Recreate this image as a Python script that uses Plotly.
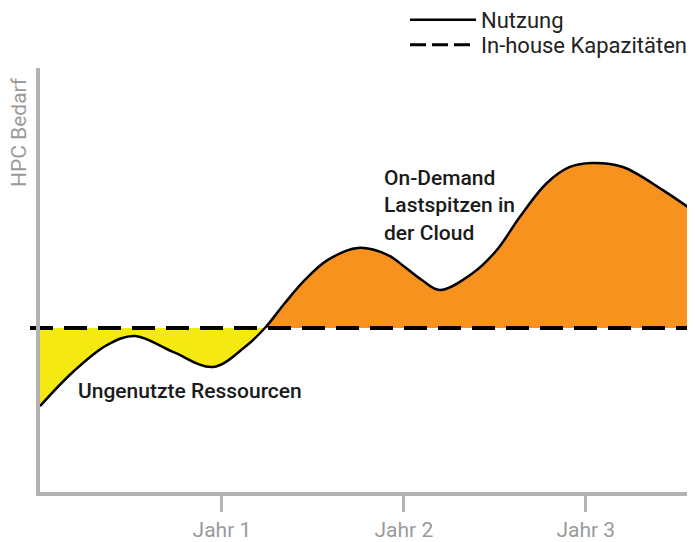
import plotly.graph_objects as go

# ---- data ----
years = [0.0, 0.181, 0.368, 0.522, 0.731, 0.951, 1.126, 1.236, 1.346, 1.456,
         1.582, 1.747, 1.912, 2.005, 2.099, 2.198, 2.379, 2.511, 2.637, 2.786,
         2.912, 3.033, 3.203, 3.423, 3.6]
usage = [52.4, 73.2, 89.6, 95.1, 85.4, 76.2, 88.4, 100.0, 115.2, 129.3,
         141.5, 148.8, 144.5, 137.2, 129.3, 123.2, 133.5, 147.6, 167.7, 188.4,
         198.2, 200.6, 198.2, 184.1, 170.7]
capacity_years = [-0.055, 3.6]
capacity = [100, 100]
tick_years = [1, 2, 3]
tick_labels = ["Jahr 1", "Jahr 2", "Jahr 3"]

# ---- layout geometry (page is offset by the default 8px body margin) ----
W, H = 695, 542
OFF = 8
ML, MR, MT, MB = 30 - OFF, OFF, 68 - OFF, 50 + OFF
PW, PH = W - ML - MR, H - MT - MB
PX_PER_YEAR = 182.0
X0 = -10 / PX_PER_YEAR
YMAX = 258.54
CAP = capacity[0]
frac = CAP / YMAX
PLOT_BOTTOM = H - MB  # figure px of plot bottom

FONT = "Roboto"
GREY = "#b3b3b3"
TXT_GREY = "#9a9a9a"
YELLOW = "#f4ea12"
ORANGE = "#f7921e"

fig = go.Figure()

# yellow region (below capacity) clipped to lower subplot
fig.add_trace(go.Scatter(x=[years[0], years[-1]], y=capacity, mode="lines",
                         line=dict(width=0), hoverinfo="skip", showlegend=False,
                         xaxis="x", yaxis="y"))
fig.add_trace(go.Scatter(x=years, y=usage, mode="lines", fill="tonexty",
                         fillcolor=YELLOW, line=dict(width=0, shape="spline", smoothing=1),
                         hoverinfo="skip", showlegend=False, xaxis="x", yaxis="y"))
# orange region (above capacity) clipped to upper subplot
fig.add_trace(go.Scatter(x=years, y=usage, mode="lines", fill="tozeroy",
                         fillcolor=ORANGE, line=dict(width=0, shape="spline", smoothing=1),
                         hoverinfo="skip", showlegend=False, xaxis="x", yaxis="y2"))
# usage line
fig.add_trace(go.Scatter(x=years, y=usage, mode="lines", name="Nutzung",
                         line=dict(color="black", width=2.5, shape="spline", smoothing=1),
                         showlegend=False, xaxis="x", yaxis="y3"))
# capacity line
fig.add_trace(go.Scatter(x=capacity_years, y=capacity, mode="lines",
                         name="In-house Kapazitäten",
                         line=dict(color="black", width=4, dash="23px,11px"),
                         showlegend=False, xaxis="x", yaxis="y3"))
# legend entries
fig.add_trace(go.Scatter(x=[None], y=[None], mode="lines", name="Nutzung",
                         line=dict(color="black", width=2.5), xaxis="x2", yaxis="y3",
                         legend="legend"))
fig.add_trace(go.Scatter(x=[None], y=[None], mode="lines", name="In-house Kapazitäten",
                         line=dict(color="black", width=3, dash="16px,6px"),
                         xaxis="x2", yaxis="y3", legend="legend2"))

fig.add_annotation(text="Ungenutzte Ressourcen", x=(76 - 40) / PX_PER_YEAR, y=61.6,
                   xref="x", yref="y3", xanchor="left", yanchor="middle", showarrow=False,
                   font=dict(family=FONT, size=21, color="#1a1a1a", weight=500))
fig.add_annotation(text="On-Demand<br>Lastspitzen in<br>der Cloud",
                   x=(382 - 40) / PX_PER_YEAR, y=174.4, xref="x", yref="y3",
                   xanchor="left", yanchor="middle", align="left", showarrow=False,
                   font=dict(family=FONT, size=21, color="#1a1a1a", weight=500))
fig.add_annotation(text="HPC Bedarf", textangle=-90, x=(19 - 30) / PW, y=(492 - 132) / PH,
                   xref="paper", yref="paper", xanchor="center", yanchor="middle",
                   showarrow=False, font=dict(family=FONT, size=21, color=TXT_GREY))

hidden = dict(showgrid=False, zeroline=False, showline=False, showticklabels=False,
              ticks="", fixedrange=True)

leg = dict(xref="paper", yref="paper", x=(405 - 30) / PW,
           xanchor="left", yanchor="top", itemwidth=66,
           font=dict(family=FONT, size=22, color="#222222"),
           bgcolor="rgba(0,0,0,0)")

fig.update_layout(
    width=W, height=H,
    margin=dict(l=ML, r=MR, t=MT, b=MB, pad=0, autoexpand=False),
    paper_bgcolor="white", plot_bgcolor="rgba(0,0,0,0)",
    font=dict(family=FONT),
    xaxis=dict(range=[X0, 3.6], domain=[0, 1], anchor="y3", **hidden),
    xaxis2=dict(range=[0, 3.6], domain=[10 / PW, 1], anchor="y3",
                showgrid=False, zeroline=False, showline=True, linecolor=GREY, linewidth=4,
                tickmode="array", tickvals=tick_years, ticktext=tick_labels,
                ticks="outside", ticklen=16, tickwidth=3, tickcolor=GREY,
                tickfont=dict(family=FONT, size=21, color=TXT_GREY), fixedrange=True),
    yaxis=dict(range=[0, CAP], domain=[0, frac], anchor="x", **hidden),
    yaxis2=dict(range=[CAP, YMAX], domain=[frac, 1], anchor="x", **hidden),
    yaxis3=dict(range=[0, YMAX], domain=[0, 1], anchor="x2", showgrid=False, zeroline=False,
                showline=True, linecolor=GREY, linewidth=4, showticklabels=False, ticks="",
                fixedrange=True),
    legend=dict(leg, y=(PLOT_BOTTOM + 9) / PH),
    legend2=dict(leg, y=(PLOT_BOTTOM - 16) / PH),
    showlegend=True,
)

fig.write_html("out.html")
